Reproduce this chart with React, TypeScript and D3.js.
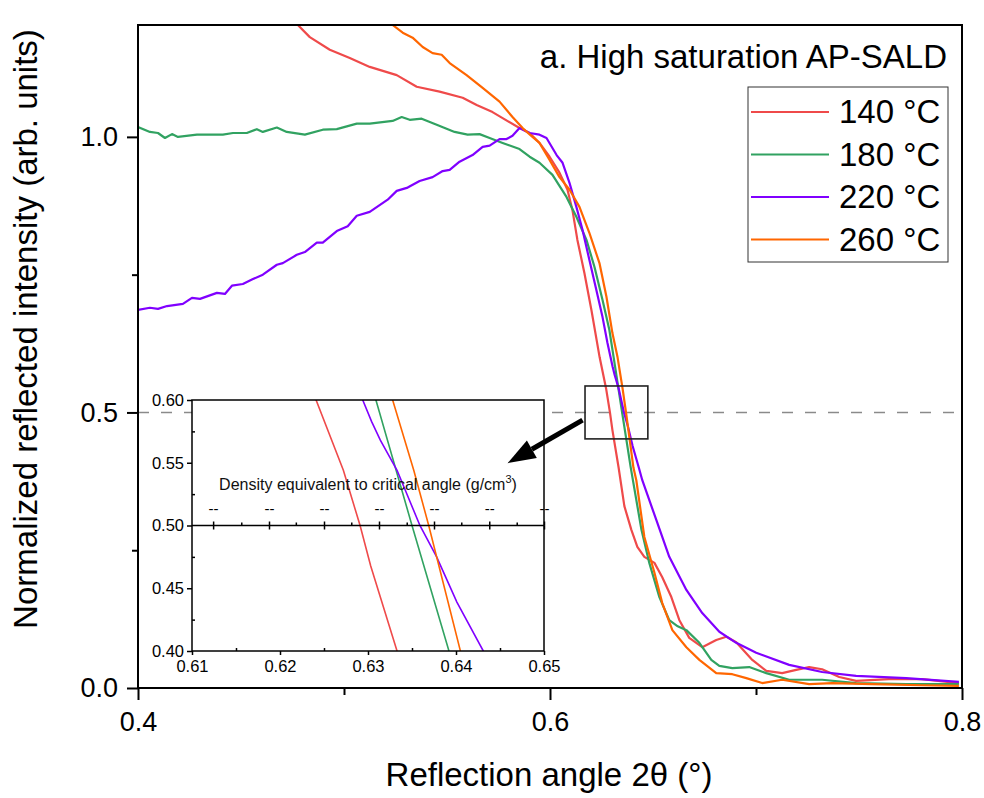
import React, { useEffect, useRef } from 'react';
import * as d3 from 'd3';

// reflectivity curves, [2θ (°), normalized intensity]
const temp140 = [
  [0.47, 1.245], [0.4776, 1.203], [0.4834, 1.181], [0.4931, 1.158], [0.5028, 1.143], [0.5125, 1.127],
  [0.5256, 1.112], [0.5353, 1.091], [0.5464, 1.082], [0.5576, 1.071], [0.5644, 1.058], [0.5721, 1.045],
  [0.577, 1.034], [0.5852, 1.016], [0.5901, 1.007], [0.5949, 0.989], [0.5998, 0.964], [0.6046, 0.935],
  [0.6085, 0.904], [0.6109, 0.867], [0.6133, 0.813], [0.6167, 0.753], [0.6201, 0.686], [0.6241, 0.6],
  [0.6272, 0.544], [0.6291, 0.5], [0.6303, 0.468], [0.6333, 0.4], [0.6361, 0.33], [0.6395, 0.287],
  [0.6424, 0.256], [0.6458, 0.238], [0.6507, 0.227], [0.6545, 0.201], [0.6589, 0.165], [0.6628, 0.123],
  [0.6676, 0.091], [0.6739, 0.074], [0.6807, 0.087], [0.6856, 0.093], [0.6904, 0.083], [0.6982, 0.051],
  [0.705, 0.031], [0.7127, 0.027], [0.7195, 0.033], [0.7258, 0.038], [0.7321, 0.034], [0.7404, 0.02],
  [0.7486, 0.013], [0.7646, 0.016], [0.7806, 0.016], [0.7985, 0.009],
];
const temp180 = [
  [0.4, 1.018], [0.4058, 1.009], [0.4097, 1.007], [0.4131, 0.998], [0.4165, 1.005], [0.4194, 1.0],
  [0.4286, 1.004], [0.4412, 1.004], [0.4461, 1.007], [0.4528, 1.007], [0.4577, 1.014], [0.4606, 1.009],
  [0.4674, 1.017], [0.4722, 1.009], [0.481, 1.004], [0.4897, 1.013], [0.4965, 1.014], [0.5062, 1.024],
  [0.5125, 1.024], [0.5236, 1.029], [0.528, 1.036], [0.5319, 1.031], [0.5377, 1.033], [0.545, 1.022],
  [0.5537, 1.009], [0.56, 1.004], [0.5658, 1.005], [0.5707, 0.998], [0.577, 0.989], [0.5852, 0.978],
  [0.5901, 0.964], [0.5949, 0.953], [0.6012, 0.931], [0.608, 0.891], [0.6128, 0.855], [0.6177, 0.813],
  [0.6216, 0.764], [0.6255, 0.704], [0.6288, 0.65], [0.6309, 0.6], [0.635, 0.5], [0.6392, 0.4],
  [0.6444, 0.287], [0.6482, 0.227], [0.6531, 0.165], [0.6579, 0.123], [0.662, 0.112], [0.6662, 0.105],
  [0.6725, 0.082], [0.6783, 0.051], [0.6822, 0.04], [0.6885, 0.036], [0.6967, 0.038], [0.705, 0.027],
  [0.7161, 0.015], [0.7321, 0.015], [0.7486, 0.009], [0.7729, 0.007], [0.7985, 0.007],
];
const temp220 = [
  [0.4, 0.686], [0.4058, 0.69], [0.4097, 0.688], [0.4141, 0.693], [0.4218, 0.697], [0.4262, 0.708],
  [0.4301, 0.706], [0.4383, 0.717], [0.4422, 0.715], [0.4456, 0.73], [0.4509, 0.733], [0.4558, 0.742],
  [0.4606, 0.75], [0.4674, 0.768], [0.4703, 0.771], [0.4771, 0.786], [0.481, 0.791], [0.4868, 0.808],
  [0.4897, 0.808], [0.4965, 0.829], [0.5018, 0.838], [0.5062, 0.857], [0.5125, 0.864], [0.5212, 0.886],
  [0.5256, 0.902], [0.5309, 0.908], [0.5367, 0.92], [0.543, 0.927], [0.5479, 0.938], [0.5513, 0.94],
  [0.5561, 0.955], [0.5624, 0.967], [0.5673, 0.982], [0.5707, 0.984], [0.5755, 0.996], [0.5789, 0.996],
  [0.5818, 1.002], [0.5852, 1.016], [0.5901, 1.007], [0.5949, 1.004], [0.5983, 0.998], [0.6032, 0.967],
  [0.6061, 0.953], [0.6095, 0.916], [0.6128, 0.873], [0.6158, 0.831], [0.6191, 0.777], [0.6225, 0.722],
  [0.6255, 0.673], [0.6279, 0.626], [0.6294, 0.6], [0.6304, 0.583], [0.6314, 0.568], [0.6333, 0.544],
  [0.6359, 0.5], [0.6378, 0.475], [0.6401, 0.439], [0.6431, 0.4], [0.6448, 0.377], [0.6516, 0.305],
  [0.6579, 0.238], [0.6662, 0.178], [0.6739, 0.136], [0.6822, 0.102], [0.6904, 0.082], [0.7001, 0.064],
  [0.7161, 0.042], [0.7321, 0.029], [0.7486, 0.022], [0.7729, 0.018], [0.7985, 0.011],
];
const temp260 = [
  [0.518, 1.245], [0.5236, 1.203], [0.5285, 1.189], [0.5333, 1.18], [0.5382, 1.163], [0.543, 1.152],
  [0.5474, 1.149], [0.5513, 1.134], [0.5595, 1.112], [0.5673, 1.089], [0.5755, 1.064], [0.5818, 1.036],
  [0.5867, 1.016], [0.5915, 1.0], [0.5949, 0.989], [0.5998, 0.958], [0.6046, 0.927], [0.6095, 0.904],
  [0.6143, 0.873], [0.6191, 0.826], [0.624, 0.771], [0.6274, 0.71], [0.6303, 0.644], [0.6328, 0.6],
  [0.6352, 0.544], [0.6369, 0.5], [0.6405, 0.4], [0.6419, 0.377], [0.6458, 0.274], [0.6507, 0.209],
  [0.6545, 0.154], [0.6594, 0.105], [0.6662, 0.074], [0.6725, 0.051], [0.6807, 0.027], [0.6885, 0.025],
  [0.6953, 0.018], [0.703, 0.009], [0.7127, 0.015], [0.7258, 0.007], [0.737, 0.009], [0.7564, 0.007],
  [0.7806, 0.005], [0.7985, 0.004],
];

const seriesNames = ['140 °C', '180 °C', '220 °C', '260 °C'];
const seriesColors = ['#EF4A4A', '#31A261', '#8000FF', '#FF6600'];
const seriesData = [temp140, temp180, temp220, temp260];

const mainXTicks = [0.4, 0.6, 0.8];
const mainXMinor = [0.5, 0.7];
const mainYTicks = [0.0, 0.5, 1.0];
const mainYMinor = [0.25, 0.75];

const insetXTicks = [0.61, 0.62, 0.63, 0.64, 0.65];
const insetXMinor = [0.615, 0.625, 0.635, 0.645];
const insetYTicks = [0.4, 0.45, 0.5, 0.55, 0.6];
const insetYMinor = [0.425, 0.475, 0.525, 0.575];
// density axis ticks, placed at their 2θ positions
const densityMajor = [0.6124, 0.61875, 0.625, 0.63125, 0.6375, 0.64378, 0.65];
const densityMinor = [0.6156, 0.6218, 0.6281, 0.6344, 0.6406, 0.6469];

const zoomBoxX = [0.617, 0.6475];
const zoomBoxY = [0.452, 0.548];
const arrowFrom = [0.6158, 0.486];
const arrowTo = [0.5794, 0.408];

const FONT = "'Liberation Sans', Arial, Helvetica, sans-serif";

const App = () => {
  const mainAxesRef = useRef<SVGGElement>(null);
  const insetAxesRef = useRef<SVGGElement>(null);

  const x = d3.scaleLinear().domain([0.4, 0.8]).range([138, 962]);
  const y = d3.scaleLinear().domain([0, 1.203]).range([688, 25]);
  const xi = d3.scaleLinear().domain([0.61, 0.65]).range([192, 544]);
  const yi = d3.scaleLinear().domain([0.4, 0.6]).range([651, 400]);

  const line = d3.line<number[]>().x((d) => x(d[0])).y((d) => y(d[1]));
  const lineIn = d3.line<number[]>().x((d) => xi(d[0])).y((d) => yi(d[1]));

  useEffect(() => {
    document.body.style.margin = '0';

    const styleAxis = (g, fontSize, width) => {
      g.attr('font-family', FONT).attr('font-size', fontSize);
      g.select('.domain').remove();
      g.selectAll('line').attr('stroke', '#000').attr('stroke-width', width);
      g.selectAll('text').attr('fill', '#000');
    };

    // main axes
    const m = d3.select(mainAxesRef.current);
    m.selectAll('*').remove();
    m.append('g').attr('transform', 'translate(0,688)')
      .call(d3.axisBottom(x).tickValues(mainXTicks).tickFormat(d3.format('.1f')).tickSize(12).tickPadding(12))
      .call((g) => styleAxis(g, 27, 2));
    m.append('g').attr('transform', 'translate(0,688)')
      .call(d3.axisBottom(x).tickValues(mainXMinor).tickFormat(() => '').tickSize(7))
      .call((g) => styleAxis(g, 27, 2));
    m.append('g').attr('transform', 'translate(138,0)')
      .call(d3.axisLeft(y).tickValues(mainYTicks).tickFormat(d3.format('.1f')).tickSize(11).tickPadding(9))
      .call((g) => styleAxis(g, 27, 2));
    m.append('g').attr('transform', 'translate(138,0)')
      .call(d3.axisLeft(y).tickValues(mainYMinor).tickFormat(() => '').tickSize(6))
      .call((g) => styleAxis(g, 27, 2));

    // inset axes
    const n = d3.select(insetAxesRef.current);
    n.selectAll('*').remove();
    n.append('g').attr('transform', 'translate(0,651)')
      .call(d3.axisBottom(xi).tickValues(insetXTicks).tickFormat(d3.format('.2f')).tickSize(4).tickPadding(5))
      .call((g) => styleAxis(g, 16.5, 1.5));
    n.append('g').attr('transform', 'translate(0,651)')
      .call(d3.axisTop(xi).tickValues(insetXMinor).tickFormat(() => '').tickSize(3))
      .call((g) => styleAxis(g, 16.5, 1.5));
    n.append('g').attr('transform', 'translate(192,0)')
      .call(d3.axisLeft(yi).tickValues(insetYTicks).tickFormat(d3.format('.2f')).tickSize(5).tickPadding(3))
      .call((g) => styleAxis(g, 16.5, 1.5));
    n.append('g').attr('transform', 'translate(192,0)')
      .call(d3.axisRight(yi).tickValues(insetYMinor).tickFormat(() => '').tickSize(3))
      .call((g) => styleAxis(g, 16.5, 1.5));
    // density axis along 0.50
    const yd = yi(0.5);
    n.append('g').attr('transform', `translate(0,${yd})`)
      .call(d3.axisTop(xi).tickValues(densityMajor).tickFormat(() => '--').tickSize(4).tickPadding(8))
      .call((g) => styleAxis(g, 15, 1.5));
    n.append('g').attr('transform', `translate(0,${yd})`)
      .call(d3.axisBottom(xi).tickValues(densityMajor).tickFormat(() => '').tickSize(4))
      .call((g) => styleAxis(g, 15, 1.5));
    n.append('g').attr('transform', `translate(0,${yd})`)
      .call(d3.axisTop(xi).tickValues(densityMinor).tickFormat(() => '').tickSize(3))
      .call((g) => styleAxis(g, 15, 1.5));
  }, []);

  // arrow geometry
  const ax0 = x(arrowFrom[0]), ay0 = y(arrowFrom[1]);
  const ax1 = x(arrowTo[0]), ay1 = y(arrowTo[1]);
  const ang = Math.atan2(ay1 - ay0, ax1 - ax0);
  const headLen = 28, headHalf = 10;
  const bx = ax1 - headLen * Math.cos(ang), by = ay1 - headLen * Math.sin(ang);
  const head = [
    [ax1, ay1],
    [bx + headHalf * Math.sin(ang), by - headHalf * Math.cos(ang)],
    [bx - headHalf * Math.sin(ang), by + headHalf * Math.cos(ang)],
  ];

  const legendX = 748, legendY = 87, legendW = 200, legendH = 175, rowH = 42.5;

  return (
    <svg width={984} height={798} style={{ display: 'block', background: '#fff' }} fontFamily={FONT}>
      <defs>
        <clipPath id="main-clip">
          <rect x={138} y={25} width={824} height={663} />
        </clipPath>
        <clipPath id="inset-clip">
          <rect x={192} y={400} width={352} height={251} />
        </clipPath>
      </defs>

      {/* 0.5 reference line */}
      <line x1={x(0.4)} x2={x(0.8)} y1={y(0.5)} y2={y(0.5)} stroke="#8a8a8a" strokeWidth={1.5} strokeDasharray="11,12" />

      <g clipPath="url(#main-clip)">
        {seriesData.map((s, i) => (
          <path key={i} d={line(s) ?? ''} fill="none" stroke={seriesColors[i]} strokeWidth={2.2} strokeLinejoin="round" />
        ))}
      </g>

      {/* inset */}
      <rect x={192} y={400} width={352} height={251} fill="#fff" />
      <g clipPath="url(#inset-clip)">
        {seriesData.map((s, i) => (
          <path key={i} d={lineIn(s) ?? ''} fill="none" stroke={seriesColors[i]} strokeWidth={1.6} />
        ))}
      </g>
      <line x1={192} x2={544} y1={yi(0.5)} y2={yi(0.5)} stroke="#000" strokeWidth={1.5} />
      <rect x={192} y={400} width={352} height={251} fill="none" stroke="#000" strokeWidth={1.5} />
      <g ref={insetAxesRef} />
      <text x={368} y={490} fontSize={16} textAnchor="middle" fill="#111">
        Density equivalent to critical angle (g/cm<tspan dy={-7} fontSize={11}>3</tspan><tspan dy={7}>)</tspan>
      </text>

      {/* zoom box and arrow */}
      <rect x={x(zoomBoxX[0])} y={y(zoomBoxY[1])} width={x(zoomBoxX[1]) - x(zoomBoxX[0])}
        height={y(zoomBoxY[0]) - y(zoomBoxY[1])} fill="none" stroke="#222" strokeWidth={1.6} />
      <line x1={ax0} y1={ay0} x2={bx} y2={by} stroke="#000" strokeWidth={5} />
      <polygon points={head.map((p) => p.join(',')).join(' ')} fill="#000" />

      {/* title */}
      <text x={947} y={68} fontSize={33} textAnchor="end" fill="#000">a. High saturation AP-SALD</text>

      {/* legend */}
      <rect x={legendX} y={legendY} width={legendW} height={legendH} fill="#fff" stroke="#333" strokeWidth={1} />
      {seriesNames.map((name, i) => {
        const cy = legendY + 25 + i * rowH;
        return (
          <g key={name}>
            <line x1={legendX + 3} x2={legendX + 81} y1={cy} y2={cy} stroke={seriesColors[i]} strokeWidth={2} />
            <text x={legendX + 91} y={cy + 11} fontSize={33} fill="#000">{name}</text>
          </g>
        );
      })}

      {/* frame and main axes */}
      <rect x={138} y={25} width={824} height={663} fill="none" stroke="#000" strokeWidth={2} />
      <g ref={mainAxesRef} />

      <text x={549} y={786} fontSize={33} textAnchor="middle" fill="#000">Reflection angle 2θ (°)</text>
      <text transform="translate(37,329) rotate(-90)" fontSize={33} textAnchor="middle" fill="#000">
        Normalized reflected intensity (arb. units)
      </text>
    </svg>
  );
};

export default App;
